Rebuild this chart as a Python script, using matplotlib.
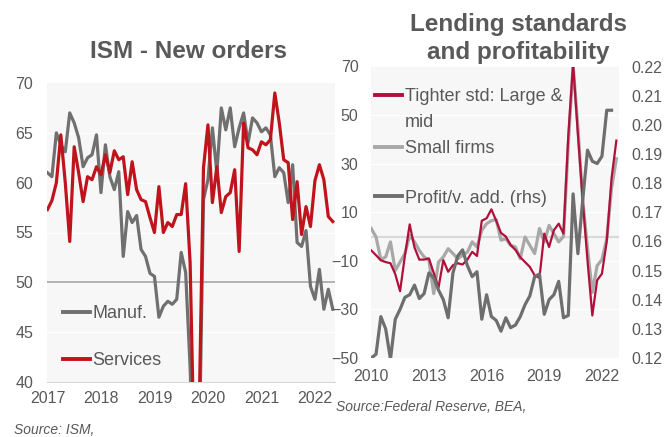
import matplotlib
matplotlib.use("Agg")
import matplotlib.pyplot as plt
from matplotlib.lines import Line2D

plt.rcParams['font.family'] = ['Liberation Sans', 'DejaVu Sans']

TXT = '#595959'
BG = '#f7f7f7'

# ISM new orders, monthly Jul 2017 - Nov 2022
manuf = [61.0, 60.6, 65.0, 63.8, 63.1, 67.0, 66.0, 64.5, 61.6, 62.5,
         62.8, 64.8, 59.0, 63.8, 60.6, 59.3, 61.1, 52.6, 57.1, 56.0,
         56.7, 53.3, 52.6, 50.9, 50.6, 46.5, 47.6, 48.1, 47.8, 48.3,
         53.0, 51.0, 41.5, 27.0, 31.5, 58.3, 60.3, 65.5, 61.0, 67.5,
         65.3, 67.5, 63.6, 65.5, 67.0, 64.0, 66.5, 66.0, 65.1, 65.5,
         64.8, 60.6, 61.5, 61.0, 58.0, 61.8, 54.0, 53.6, 55.2, 49.6,
         48.3, 51.3, 47.3, 49.3, 47.3]
services = [57.3, 58.2, 60.0, 64.8, 60.0, 54.1, 63.6, 61.0, 58.1, 60.6,
            60.3, 61.6, 60.8, 62.8, 61.0, 63.2, 62.3, 62.6, 58.8, 62.1,
            59.3, 58.3, 58.1, 56.5, 55.0, 59.6, 55.0, 56.0, 55.6, 56.8,
            56.8, 59.9, 52.0, 31.0, 36.0, 61.5, 65.8, 58.0, 61.6, 57.0,
            58.6, 59.0, 61.3, 53.1, 66.0, 63.5, 63.3, 62.8, 64.1, 63.8,
            64.3, 69.0, 66.0, 62.3, 62.0, 56.3, 60.1, 54.8, 57.6, 55.6,
            60.2, 61.8, 60.3, 56.6, 56.1]
ism_years = ['2017', '2018', '2019', '2020', '2021', '2022']

# SLOOS net % tightening, quarterly 2010Q1 - 2022Q4
tighter_large = [-5.7, -7.7, -9.8, -10.5, -11.0, -15.5, -22.5, -8.0, 5.0, -4.5,
                 -9.5, -9.5, -9.0, -15.0, -21.0, -9.7, -14.5, -11.8, -11.0, -11.5,
                 -9.5, -6.3, -8.0, 6.5, 7.5, 11.2, 6.5, 1.5, 0.0, -3.5,
                 -5.5, -8.5, -10.5, -12.5, -16.0, -17.0, 1.2, -4.3, 2.6, 5.3,
                 1.2, 41.5, 71.2, 42.0, 15.0, -10.0, -32.5, -18.0, -15.3, -2.0,
                 24.0, 39.5]
small_firms = [3.3, -0.2, -9.5, -8.4, -2.2, -14.0, -10.5, -7.0, 0.5, -2.2,
               -5.7, -8.4, -9.8, -23.5, -10.5, -8.4, -5.0, -7.0, -9.1, -7.7,
               -6.4, -2.2, -4.3, 2.6, 5.3, 6.5, 7.0, -1.5, -0.9, -3.6,
               -4.3, -9.1, -0.2, -3.6, -7.0, 3.3, -2.2, 4.6, 1.2, -2.2,
               0.0, 38.0, 70.5, 45.0, 15.0, -5.0, -23.0, -12.0, -9.5, -1.0,
               20.0, 32.0]
# profits / value added, 2010Q1 - 2022Q3 (rhs)
profit_va = [0.1200, 0.1213, 0.1342, 0.1300, 0.1196, 0.1333, 0.1367, 0.1408, 0.1417, 0.1450,
             0.1404, 0.1421, 0.1492, 0.1475, 0.1433, 0.1400, 0.1338, 0.1492, 0.1550, 0.1571,
             0.1517, 0.1479, 0.1496, 0.1333, 0.1417, 0.1342, 0.1329, 0.1292, 0.1338, 0.1304,
             0.1313, 0.1342, 0.1383, 0.1413, 0.1479, 0.1488, 0.1350, 0.1400, 0.1417, 0.1463,
             0.1338, 0.1346, 0.1763, 0.1558, 0.1742, 0.1913, 0.1875, 0.1867, 0.1892, 0.2050,
             0.2050]
sloos_years = ['2010', '2013', '2016', '2019', '2022']

fig = plt.figure(figsize=(6.66, 4.37), dpi=100)

# ---- left panel: ISM ----
ax = fig.add_axes([47/666, 1-382/437, 288/666, 299/437])
ax.set_facecolor(BG)
for v in [45, 55, 60, 65]:
    ax.axhline(v, color='white', lw=1, zorder=1)
ax.axhline(50, color='#a6a6a6', lw=1.2, zorder=1)
xm = list(range(len(manuf)))
ax.plot(xm, manuf, color='#707070', lw=2.3, label='Manuf.', zorder=3)
ax.plot(xm, services, color='#c0141c', lw=2.3, label='Services', zorder=4)
ax.set_ylim(40, 70)
ax.set_xlim(-0.1, 64.5)
ax.set_yticks([40, 45, 50, 55, 60, 65, 70])
ax.set_xticks(range(0, 61, 12))
ax.set_xticklabels(ism_years)
ax.tick_params(length=0, labelsize=11.5, labelcolor=TXT)
ax.tick_params(axis='y', pad=10)
ax.tick_params(axis='x', pad=6.5)
for s in ['top', 'right', 'left']:
    ax.spines[s].set_visible(False)
ax.spines['bottom'].set_color('#d9d9d9')
leg = ax.legend(loc='lower left', bbox_to_anchor=(0.055, 0.042), frameon=False,
                fontsize=13, labelcolor=TXT, handlelength=1.5, handletextpad=0.15,
                labelspacing=1.67, borderpad=0, borderaxespad=0)
for h in leg.legend_handles:
    h.set_linewidth(2.8)

fig.text(188/666, 1-51/437, 'ISM - New orders', ha='center', va='center',
         fontsize=17.5, fontweight='bold', color=TXT)
fig.text(14/666, 1-430/437, 'Source: ISM,', ha='left', va='center',
         fontsize=10, style='italic', color=TXT)

# ---- right panel: lending standards ----
bx = fig.add_axes([371/666, 1-358/437, 248/666, 291.5/437])
bx.set_facecolor(BG)
for v in [50, 30, 10, -10, -30]:
    bx.axhline(v, color='white', lw=1, zorder=1)
bx.axhline(0, color='#d9d9d9', lw=1.5, zorder=1)
xq = list(range(len(tighter_large)))
bx.plot(xq, small_firms, color='#a8a8a8', lw=2.3, zorder=3)
bx.plot(xq, tighter_large, color='#b0103a', lw=1.6, zorder=4)
bx.set_ylim(-50, 70)
bx.set_xlim(-0.05, 51.55)
bx.set_yticks(range(-50, 71, 20))
bx.set_xticks(range(0, 49, 12))
bx.set_xticklabels(sloos_years)
bx.tick_params(length=0, labelsize=11.5, labelcolor=TXT)
bx.tick_params(axis='y', pad=9)
bx.tick_params(axis='x', pad=8)
for s in bx.spines.values():
    s.set_visible(False)

bx2 = bx.twinx()
bx2.plot(list(range(len(profit_va))), profit_va, color='#6e6e6e', lw=2.3, zorder=5)
bx2.set_ylim(0.12, 0.22)
bx2.set_yticks([0.12 + 0.01*i for i in range(11)])
bx2.set_yticklabels(['%.2f' % (0.12 + 0.01*i) for i in range(11)])
bx2.tick_params(length=0, labelsize=11.5, labelcolor=TXT, pad=9)
for s in bx2.spines.values():
    s.set_visible(False)

h1 = Line2D([], [], color='#b0103a', lw=2.8)
hb = Line2D([], [], color='none', lw=0)
h2 = Line2D([], [], color='#a8a8a8', lw=2.8)
h3 = Line2D([], [], color='#6e6e6e', lw=2.8)
legA = bx2.legend([h1, hb, h2], ['Tighter std: Large &', 'mid', 'Small firms'],
                  loc='upper left', bbox_to_anchor=(0.016, 0.926), frameon=False,
                  fontsize=13, labelcolor=TXT, handlelength=1.5, handletextpad=0.15,
                  labelspacing=0.5, borderpad=0, borderaxespad=0)
bx2.add_artist(legA)
bx2.legend([h3], ['Profit/v. add. (rhs)'], loc='upper left',
           bbox_to_anchor=(0.016, 0.578), frameon=False, fontsize=13,
           labelcolor=TXT, handlelength=1.5, handletextpad=0.15,
           borderpad=0, borderaxespad=0)

fig.text(518/666, 1-25/437, 'Lending standards', ha='center', va='center',
         fontsize=17.5, fontweight='bold', color=TXT)
fig.text(518/666, 1-52/437, 'and profitability', ha='center', va='center',
         fontsize=17.5, fontweight='bold', color=TXT)
fig.text(336/666, 1-407/437, 'Source:Federal Reserve, BEA,', ha='left', va='center',
         fontsize=10, style='italic', color=TXT)

fig.savefig('out.png', dpi=100)
